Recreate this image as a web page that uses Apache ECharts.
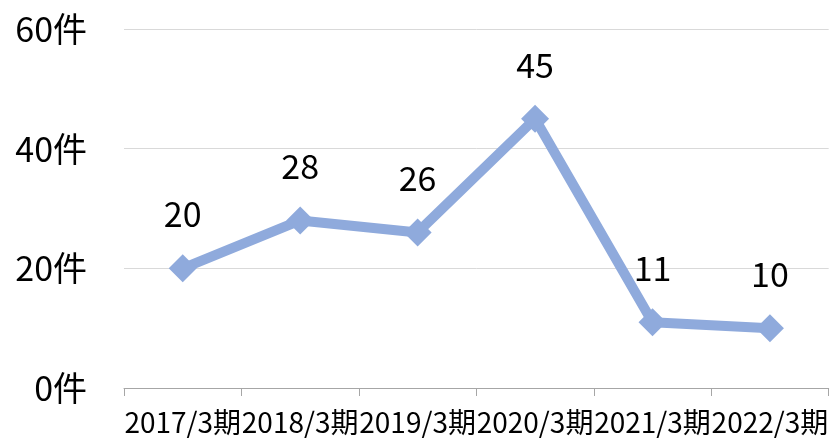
<!DOCTYPE html>
<html>
<head>
<meta charset="utf-8">
<script src="https://cdn.jsdelivr.net/npm/echarts@6/dist/echarts.min.js"></script>
<style>html,body{margin:0;padding:0;background:#fff;}#c{width:831px;height:438px;}</style>
</head>
<body>
<div id="c"></div>
<script>
const categories = ['2017/3期','2018/3期','2019/3期','2020/3期','2021/3期','2022/3期'];
const values = [20, 28, 26, 45, 11, 10];
const yTicks = [0, 20, 40, 60];
const yUnit = '件';

const FONT = '"Noto Sans CJK JP", "Noto Sans", sans-serif';
const chart = echarts.init(document.getElementById('c'), null, {renderer: 'canvas'});
chart.setOption({
  animation: false,
  backgroundColor: '#ffffff',
  grid: {left: 124, right: -1, top: 29, bottom: 50, containLabel: false},
  xAxis: {
    type: 'category',
    data: categories,
    boundaryGap: true,
    axisLine: {show: true, lineStyle: {color: '#a6a6a6', width: 1}},
    axisTick: {show: true, alignWithLabel: false, length: 8, inside: false, lineStyle: {color: '#a6a6a6'}},
    axisLabel: {color: '#000', fontSize: 28, fontFamily: FONT, margin: 20, interval: 0},
    splitLine: {show: false}
  },
  yAxis: {
    type: 'value',
    min: yTicks[0],
    max: yTicks[yTicks.length - 1],
    interval: yTicks[1] - yTicks[0],
    axisLine: {show: false},
    axisTick: {show: false},
    axisLabel: {color: '#000', fontSize: 34, fontFamily: FONT, margin: 37, formatter: v => v + yUnit},
    splitLine: {show: true, lineStyle: {color: '#d9d9d9', width: 1}}
  },
  series: [{
    type: 'line',
    data: values,
    symbol: 'diamond',
    symbolSize: 28,
    lineStyle: {color: '#8FAADC', width: 10},
    itemStyle: {color: '#8FAADC', borderWidth: 0},
    label: {show: true, position: 'top', distance: 23, color: '#000', fontSize: 34, fontFamily: FONT},
    z: 3
  }]
});
</script>
</body>
</html>
